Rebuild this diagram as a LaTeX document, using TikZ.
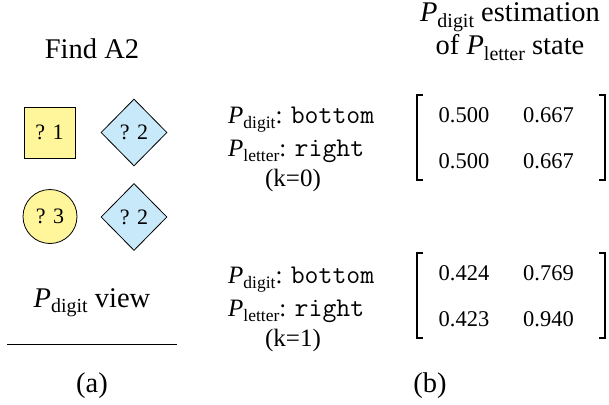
\documentclass[tikz,border=0pt]{standalone}
\usepackage{fontspec}
\setmainfont{Liberation Serif}
\usetikzlibrary{shapes.geometric}
\definecolor{ylw}{RGB}{255,245,155}
\definecolor{blu}{RGB}{199,233,250}
\makeatletter
\newcommand\Psub[1]{{\itshape P}\raisebox{-0.2em}{\@tempdima=\f@size pt\relax\@tempdima=0.7\@tempdima\fontsize{\strip@pt\@tempdima}{\strip@pt\@tempdima}\selectfont #1}}
\makeatother
\newcommand\mono[1]{{\fontsize{27}{27}\selectfont\ttfamily #1}}
\begin{document}
\begin{tikzpicture}[x=1pt,y=-1pt,
  head/.style={font=\fontsize{28.5}{30}\selectfont, inner sep=0, anchor=base},
  lab/.style={font=\fontsize{25}{27}\selectfont, inner sep=0, anchor=base west},
  kk/.style={font=\fontsize{25}{27}\selectfont, inner sep=0, anchor=base},
  num/.style={font=\fontsize{22.5}{24}\selectfont, inner sep=0, anchor=base},
  shp/.style={draw, line width=0.8pt, inner sep=0, font=\fontsize{22}{24}\selectfont},
  dia/.style={shp, fill=blu, diamond, minimum width=66, minimum height=67},
  brk/.style={line width=1.6pt}]
\useasboundingbox (0,0) rectangle (609,404);
% (a)
\node[head] (find) at (92,59) {Find A2};
\node[shp, fill=ylw, minimum size=51] (s1) at (49.5,132.5) {? 1};
\node[dia] (d1) at (134,132.5) {? 2};
\node[shp, fill=ylw, circle, minimum size=54] (c3) at (50,216.5) {? 3};
\node[dia] (d2) at (134,217) {? 2};
\node[head] (view) at (92,307) {\Psub{digit} view};
\coordinate (la) at (7,344);
\coordinate (lb) at (177,344);
\draw[line width=0.8pt] (la) -- (lb);
\node[head] (a) at (92,392) {(a)};
% (b)
\node[head] (t1) at (510,22) {\Psub{digit} estimation};
\node[head] (t2) at (510,55) {of \Psub{letter} state};
\node[lab] (pd0) at (228,123) {\Psub{digit}: \mono{bottom}};
\node[lab] (pl0) at (228,156) {\Psub{letter}: \mono{right}};
\node[kk] (k0) at (293,186) {(k=0)};
\node[num] (m011) at (464,122) {0.500};
\node[num] (m012) at (548.5,122) {0.667};
\node[num] (m021) at (464,168) {0.500};
\node[num] (m022) at (548.5,168) {0.667};
\draw[brk] (423,95) -- (417,95) -- (417,180) -- (423,180);
\draw[brk] (599,95) -- (605,95) -- (605,180) -- (599,180);
\node[lab] (pd1) at (228,283) {\Psub{digit}: \mono{bottom}};
\node[lab] (pl1) at (228,316) {\Psub{letter}: \mono{right}};
\node[kk] (k1) at (293,346) {(k=1)};
\node[num] (m111) at (464,280) {0.424};
\node[num] (m112) at (548.5,280) {0.769};
\node[num] (m121) at (464,326) {0.423};
\node[num] (m122) at (548.5,326) {0.940};
\draw[brk] (423,253) -- (417,253) -- (417,338) -- (423,338);
\draw[brk] (599,253) -- (605,253) -- (605,338) -- (599,338);
\node[head] (b) at (430,392) {(b)};
\end{tikzpicture}
\end{document}
